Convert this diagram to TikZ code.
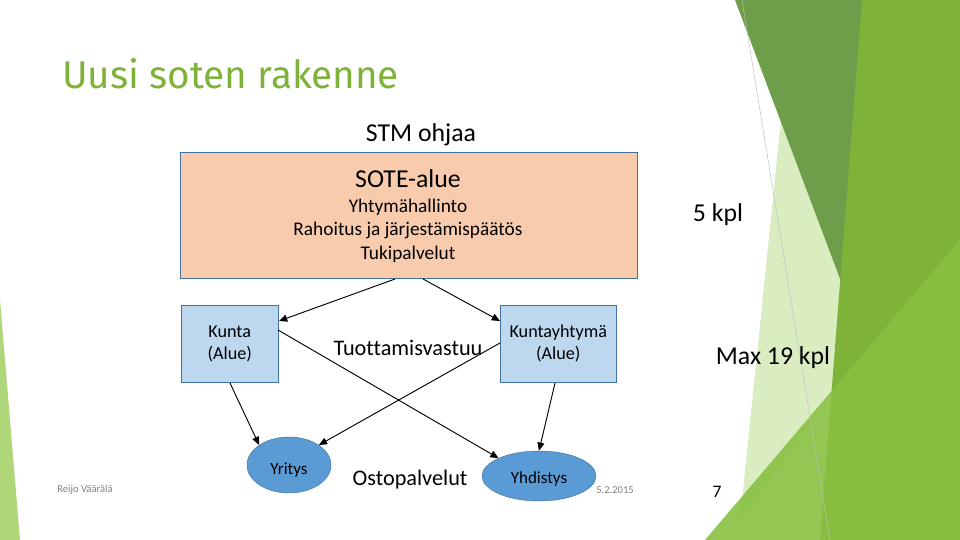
\documentclass[tikz,border=0pt]{standalone}
\usepackage{fontspec}
\setmainfont{Carlito}[Ligatures=NoCommon]
\newfontfamily\titlefont{Fira Sans}
\usetikzlibrary{shapes.geometric,arrows.meta}
\definecolor{peach}{HTML}{F8CBAD}
\definecolor{paleblue}{HTML}{BDD7EE}
\definecolor{midblue}{HTML}{5B9BD5}
\definecolor{boxline}{HTML}{41719C}
\definecolor{leaf}{HTML}{8DC63F}
\definecolor{darkleaf}{HTML}{6E9E4A}
\tikzset{
  box/.style={draw=boxline,rectangle,align=center,anchor=north west},
  blob/.style={draw=boxline,ellipse,fill=midblue},
  link/.style={-{Triangle[length=7pt,width=6pt]},thick}
}
\begin{document}
\begin{tikzpicture}[x=0.03cm,y=-0.03cm]
\useasboundingbox (0,0) rectangle (960,540);
% green decoration
\fill[leaf!40,opacity=0.8] (782,110) -- (865,345) -- (740,520) -- cycle;
\fill[darkleaf] (735,0) -- (865,0) -- (880,385) -- cycle;
\fill[leaf!90!black] (862,0) -- (960,0) -- (960,540) -- (820,540) -- cycle;
\fill[leaf!85!darkleaf,opacity=0.9] (705,540) -- (960,240) -- (960,540) -- cycle;
\fill[leaf!70] (0,300) -- (20,540) -- (0,540) -- cycle;
\draw[gray!50,thin] (742,0) -- (830,540);
\node[anchor=west,text=leaf!90!black,font=\titlefont\fontsize{33}{38}\selectfont] (title) at (58,74) {Uusi soten rakenne};
% boxes
\node[font=\fontsize{22}{26}\selectfont] (stm) at (421,135) {STM ohjaa};
\node[box,fill=peach,minimum width=457*0.03cm,minimum height=126*0.03cm] (sote) at (180,152) {};
\node[font=\fontsize{16.5}{20}\selectfont,align=center] (sotetxt) at (408,216)
  {{\fontsize{22}{26}\selectfont SOTE-alue}\\[1pt]Yhtymähallinto\\Rahoitus ja järjestämispäätös\\Tukipalvelut};
\node[box,fill=paleblue,minimum width=97*0.03cm,minimum height=77*0.03cm] (kunta) at (181,305) {};
\node[font=\fontsize{15.5}{19}\selectfont,align=center] at (kunta.center) {Kunta\\(Alue)};
\node[box,fill=paleblue,minimum width=116*0.03cm,minimum height=77*0.03cm] (kyht) at (500,305) {};
\node[font=\fontsize{15.5}{19}\selectfont,align=center] at (kyht.center) {Kuntayhtymä\\(Alue)};
\node[font=\fontsize{19}{22}\selectfont] (tuot) at (408,348) {Tuottamisvastuu};
\node[blob,minimum width=84*0.03cm,minimum height=56*0.03cm] (yritys) at (289,465) {};
\node[font=\fontsize{14.5}{17}\selectfont] at (289,470) {Yritys};
\node[blob,minimum width=114*0.03cm,minimum height=50*0.03cm] (yhd) at (539,476) {};
\node[font=\fontsize{14.5}{17}\selectfont] at (539,479) {Yhdistys};
\node[font=\fontsize{19}{22}\selectfont] (osto) at (410,480) {Ostopalvelut};
\node[font=\fontsize{22}{26}\selectfont] (five) at (718,215) {5 kpl};
\node[font=\fontsize{22}{26}\selectfont] (max) at (773,358) {Max 19 kpl};
\node[font=\fontsize{9}{11}\selectfont,text=gray] (author) at (85,490) {Reijo Väärälä};
\node[font=\fontsize{9}{11}\selectfont,text=gray] (date) at (615,490) {5.2.2015};
\node[font=\fontsize{15}{18}\selectfont] (page) at (717,492) {7};
% connectors
\coordinate (s1) at (395,279);
\coordinate (s2) at (423,279);
\draw[link] (s1) -- (279,321);
\draw[link] (s2) -- (500,321);
\draw[link] (230,383) -- (yritys.north west);
\draw[link] (555,383) -- (yhd.north);
\draw[link] (278,330) -- (yhd.north west);
\draw[link] (500,343) -- (yritys.north east);
\end{tikzpicture}
\end{document}
